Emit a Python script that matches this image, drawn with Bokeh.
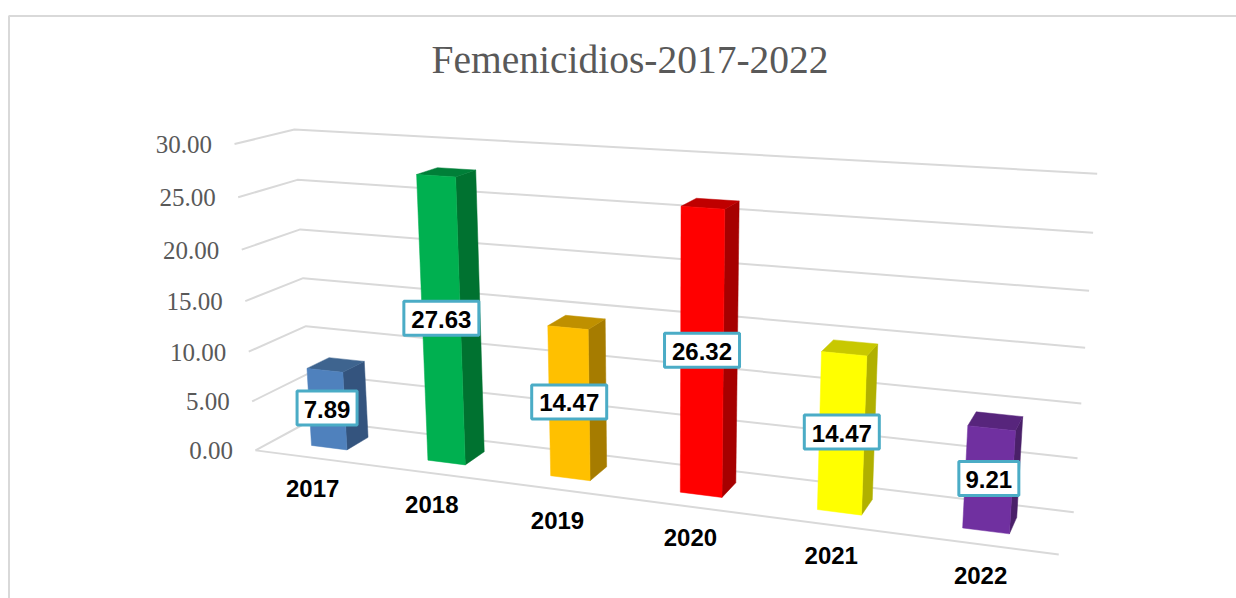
import numpy as np
from bokeh.plotting import figure
from bokeh.models import Range1d
from bokeh.core.properties import value
from bokeh.embed import file_html
from bokeh.resources import INLINE

# ---- data
title = "Femenicidios-2017-2022"
years = ["2017", "2018", "2019", "2020", "2021", "2022"]
values = [7.89, 27.63, 14.47, 26.32, 14.47, 9.21]
ticks = [0, 5, 10, 15, 20, 25, 30]
tick_labels = ["0.00", "5.00", "10.00", "15.00", "20.00", "25.00", "30.00"]
front_cols = ["#4F81BD", "#00B050", "#FFC000", "#FF0000", "#FFFF00", "#7030A0"]
side_cols = ["#34547E", "#007230", "#A67C00", "#A60000", "#B0B000", "#4A2069"]
top_cols = ["#3E648F", "#007F38", "#BF9000", "#BF0000", "#C8C800", "#57257C"]

# ---- camera calibration of the 3-D box: (category pos, depth, value) -> page pixel
calib = [
    (0, 0, 30, 234, 143.5), (0, 0, 25, 237.5, 196), (0, 0, 20, 241, 249), (0, 0, 15, 244.5, 301),
    (0, 0, 10, 248, 351), (0, 0, 5, 252, 401), (0, 0, 0, 255, 450),
    (0, 1, 30, 295, 129), (0, 1, 25, 297, 180), (0, 1, 20, 299.5, 229), (0, 1, 15, 302, 278),
    (0, 1, 10, 305, 326),
    (6, 1, 30, 1097, 172), (6, 1, 25, 1092, 231), (6, 1, 20, 1088, 290), (6, 1, 15, 1084.5, 347),
    (6, 1, 10, 1081, 403), (6, 1, 5, 1077, 458), (6, 1, 0, 1073, 512),
    (6, 0, 0, 1058, 553), (6, 0, 30, 1083, 196),
    (0.35, 0.31, 0, 311.7, 445), (0.65, 0.31, 0, 347, 449), (0.65, 0.69, 0, 368, 437),
    (5.35, 0.31, 0, 963, 527), (5.65, 0.31, 0, 1010, 533), (5.65, 0.69, 0, 1017, 520),
]
BAR_W, V0, V1 = 0.31, 0.31, 0.71
BAR_SHIFT = -0.007


def fit(points):
    rows = []
    for u, v, w, x, y in points:
        X = [u / 6, v, w / 30, 1]
        x, y = x / 1000, y / 1000
        rows.append(X + [0, 0, 0, 0] + [-x * c for c in X])
        rows.append([0, 0, 0, 0] + X + [-y * c for c in X])
    return np.linalg.svd(np.array(rows))[2][-1].reshape(3, 4)


P = fit(calib)


def proj(u, v, w):
    h = P @ np.array([u / 6, v, w / 30, 1.0])
    return h[0] / h[2] * 1000, h[1] / h[2] * 1000


def poly(*pts):
    c = [proj(*q) for q in pts]
    return [a for a, _ in c], [b for _, b in c]


p = figure(width=1236, height=598, x_range=Range1d(0, 1236), y_range=Range1d(598, 0),
           toolbar_location=None, output_backend="svg", min_border=0,
           outline_line_color=None, background_fill_color="white")
p.xaxis.visible = False
p.yaxis.visible = False
p.grid.visible = False

GRID = "#D9D9D9"
# outer chart frame
p.line(x=[8.5, 8.5, 1236], y=[598, 15.5, 15.5], line_color=GRID, line_width=2)

# walls' gridlines
for t in ticks:
    xs, ys = poly((0, 0, t), (0, 1, t), (6, 1, t))
    p.line(x=xs, y=ys, line_color=GRID, line_width=2)
xs, ys = poly((0, 0, 0), (6, 0, 0))
p.line(x=xs, y=ys, line_color=GRID, line_width=2)

# value-axis labels
for t, lab in zip(ticks, tick_labels):
    x, y = proj(0, 0, t)
    p.text(x=[x - 22.5], y=[y + 0.5], text=[lab], text_font=value("Liberation Serif"), text_font_size="25px",
           text_color="#595959", text_align="right", text_baseline="middle")

# bars
for i, val in enumerate(values):
    u0, u1 = i + 0.5 + BAR_SHIFT - BAR_W / 2, i + 0.5 + BAR_SHIFT + BAR_W / 2
    xs, ys = poly((u1, V0, 0), (u1, V1, 0), (u1, V1, val), (u1, V0, val))
    p.patch(x=xs, y=ys, fill_color=side_cols[i], line_color=side_cols[i], line_width=0.5)
    xs, ys = poly((u0, V0, val), (u1, V0, val), (u1, V1, val), (u0, V1, val))
    p.patch(x=xs, y=ys, fill_color=top_cols[i], line_color=top_cols[i], line_width=0.5)
    xs, ys = poly((u0, V0, 0), (u1, V0, 0), (u1, V0, val), (u0, V0, val))
    p.patch(x=xs, y=ys, fill_color=front_cols[i], line_color=front_cols[i], line_width=0.5)

# value labels
for i, val in enumerate(values):
    u0, u1 = i + 0.5 + BAR_SHIFT - BAR_W / 2, i + 0.5 + BAR_SHIFT + BAR_W / 2
    xs, ys = poly((u0, V0, 0), (u1, V0, 0), (u1, V0, val), (u0, V0, val))
    cx, cy = float(np.mean(xs)), float(np.mean(ys)) - 1
    lab = f"{val:.2f}"
    p.rect(x=[cx], y=[cy], width=15 * len(lab), height=34, fill_color="white",
           line_color="#4BACC6", line_width=3)
    p.text(x=[cx], y=[cy + 1], text=[lab], text_font=value("Liberation Sans"), text_font_size="24px",
           text_font_style="bold", text_color="black", text_align="center", text_baseline="middle")

# category labels
for i, yr in enumerate(years):
    x, y = proj(i + 0.5, 0, 0)
    p.text(x=[x], y=[y + 31], text=[yr], text_font=value("Liberation Sans"), text_font_size="24px",
           text_font_style="bold", text_color="black", text_align="center", text_baseline="middle")

p.text(x=[629.5], y=[59], text=[title], text_font=value("Liberation Serif"), text_font_size="39.5px",
       text_color="#595959", text_align="center", text_baseline="middle")

open("out.html", "w").write(file_html(p, INLINE))
